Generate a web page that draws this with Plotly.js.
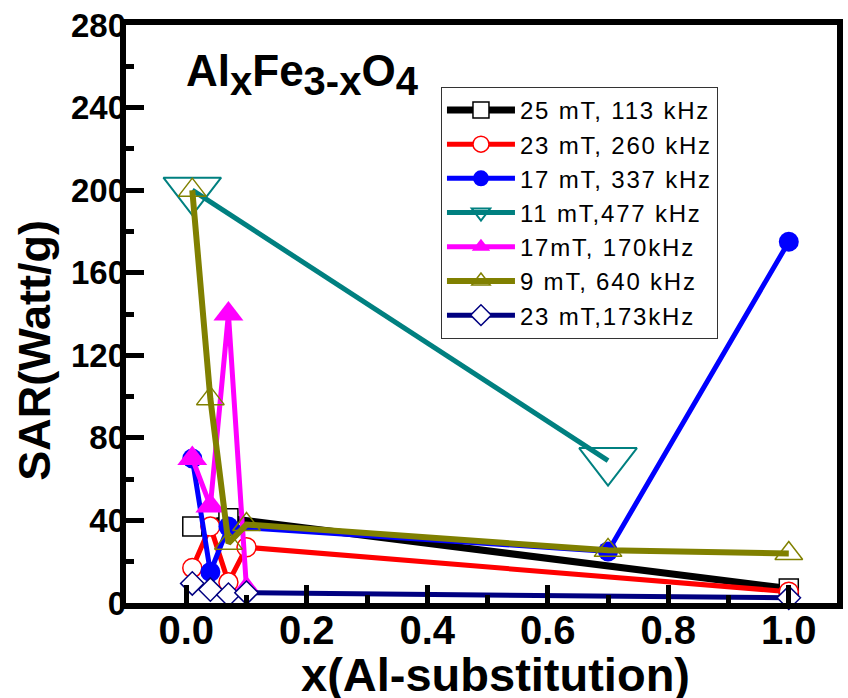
<!DOCTYPE html>
<html><head><meta charset="utf-8">
<script src="https://cdn.plot.ly/plotly-3.0.1.min.js"></script>
<style>html,body{margin:0;padding:0;background:#fff}</style>
</head><body><div id="chart" style="width:848px;height:698px"></div>
<script>
// Data
const names = ["25 mT, 113 kHz", "23 mT, 260 kHz", "17 mT, 337 kHz", "11 mT,477 kHz", "17mT, 170kHz", "9 mT, 640 kHz", "23 mT,173kHz"];
const x_25mT_113 = [0.01, 0.07, 1.0];
const y_25mT_113 = [37, 41, 7];
const x_23mT_260 = [0.01, 0.04, 0.07, 0.1, 1.0];
const y_23mT_260 = [17, 37, 10, 27, 5.5];
const x_17mT_337 = [0.01, 0.04, 0.07, 0.7, 1.0];
const y_17mT_337 = [70, 15, 37, 25, 175];
const x_11mT_477 = [0.01, 0.7];
const y_11mT_477 = [200, 69];
const x_17mT_170 = [0.01, 0.04, 0.07, 0.1];
const y_17mT_170 = [70, 47, 140, 7];
const x_9mT_640 = [0.01, 0.04, 0.07, 0.1, 0.7, 1.0];
const y_9mT_640 = [200, 99, 29, 38, 25.5, 24];
const x_23mT_173 = [0.01, 0.04, 0.07, 0.1, 1.0];
const y_23mT_173 = [9.5, 6.5, 4, 5, 2.5];
const xTickVals = [0, 0.2, 0.4, 0.6, 0.8, 1.0];
const xTickText = ["0.0", "0.2", "0.4", "0.6", "0.8", "1.0"];
const yTickVals = [0, 40, 80, 120, 160, 200, 240, 280];
const xRange = [-0.1, 1.08];
const yRange = [0, 280];

const colors = ["#000000", "#FF0000", "#0000FF", "#008080", "#FF00FF", "#808000", "#000080"];

function tr(x, y, i, lw, marker) {
  return {x: x, y: y, type: "scatter", mode: "lines+markers",
    name: '<span style="letter-spacing:1.8px">' + names[i] + '</span>',
    cliponaxis: false,
    line: {color: colors[i], width: lw}, marker: marker};
}

const data = [
  tr(x_25mT_113, y_25mT_113, 0, 7, {symbol: "square", size: 19, color: "#ffffff", line: {color: colors[0], width: 1.5}}),
  tr(x_23mT_260, y_23mT_260, 1, 5, {symbol: "circle", size: 19, color: "#ffffff", line: {color: colors[1], width: 1.5}}),
  tr(x_17mT_337, y_17mT_337, 2, 5, {symbol: "circle", size: 20, color: colors[2], line: {width: 0}}),
  tr(x_11mT_477, y_11mT_477, 3, 5, {symbol: "triangle-down-open", size: 50, color: colors[3], line: {width: 2}}),
  tr(x_17mT_170, y_17mT_170, 4, 5, {symbol: "triangle-up", size: 26, color: colors[4], line: {width: 0}}),
  tr(x_9mT_640, y_9mT_640, 5, 6, {symbol: "triangle-up-open", size: 24, color: colors[5], line: {width: 1.5}}),
  tr(x_23mT_173, y_23mT_173, 6, 5, {symbol: "diamond", size: 18, color: "#ffffff", line: {color: colors[6], width: 1.5}}),
  // empty trace that only carries the label axes
  {x: [], y: [], xaxis: "x2", yaxis: "y2", type: "scatter", mode: "markers", showlegend: false, hoverinfo: "skip"}
];

const axisCommon = {
  showgrid: false, zeroline: false, showline: true, mirror: true,
  linecolor: "#000", linewidth: 6, ticks: "inside", tickcolor: "#000",
  ticklen: 18, tickwidth: 5, showticklabels: false
};
const labelAxis = {showgrid: false, zeroline: false, showline: false, ticks: "", anchor: "free"};

const layout = {
  width: 848, height: 698,
  margin: {l: 126, r: 11, t: 25, b: 95},
  paper_bgcolor: "#fff", plot_bgcolor: "#fff",
  showlegend: true,
  xaxis: Object.assign({}, axisCommon, {
    range: xRange, tickvals: xTickVals,
    minor: {dtick: 0.1, tick0: 0, ticks: "inside", ticklen: 8, tickwidth: 5, tickcolor: "#000"}
  }),
  yaxis: Object.assign({}, axisCommon, {
    range: yRange, tickvals: yTickVals,
    minor: {dtick: 20, tick0: 0, ticks: "inside", ticklen: 8, tickwidth: 5, tickcolor: "#000"}
  }),
  xaxis2: Object.assign({}, labelAxis, {
    overlaying: "x", position: 0, range: xRange, tickvals: xTickVals, ticktext: xTickText,
    tickfont: {family: "Liberation Sans, Arial, sans-serif", size: 40, color: "#000", weight: "bold"}
  }),
  yaxis2: Object.assign({}, labelAxis, {
    overlaying: "y", position: 0, side: "left", range: yRange, tickvals: yTickVals,
    tickfont: {family: "Liberation Sans, Arial, sans-serif", size: 33, color: "#000", weight: "bold"}
  }),
  legend: {
    x: 0.443, y: 0.893, xanchor: "left", yanchor: "top",
    bgcolor: "#ffffff", bordercolor: "#333", borderwidth: 1,
    font: {family: "Liberation Sans, Arial, sans-serif", size: 24, color: "#000"},
    itemwidth: 68, tracegroupgap: 0
  },
  annotations: [
    {xref: "paper", yref: "paper", x: 0.081, y: 0.967, xanchor: "left", yanchor: "top", showarrow: false,
     text: 'Al<sub><span style="font-size:40px">x</span></sub>Fe<sub><span style="font-size:40px">3-x</span></sub>O<sub><span style="font-size:40px">4</span></sub>',
     font: {family: "Liberation Sans, Arial, sans-serif", size: 44, color: "#000", weight: "bold"}},
    {xref: "paper", yref: "paper", x: -0.128, y: 0.438, xanchor: "center", yanchor: "middle", showarrow: false,
     textangle: -90, text: "SAR(Watt/g)",
     font: {family: "Liberation Sans, Arial, sans-serif", size: 45, color: "#000", weight: "bold"}},
    {xref: "paper", yref: "paper", x: 0.52, y: -0.075, xanchor: "center", yanchor: "top", showarrow: false,
     text: "x(Al-substitution)",
     font: {family: "Liberation Sans, Arial, sans-serif", size: 47, color: "#000", weight: "bold"}}
  ]
};

Plotly.newPlot("chart", data, layout, {displayModeBar: false, staticPlot: true});
</script>
</body></html>
